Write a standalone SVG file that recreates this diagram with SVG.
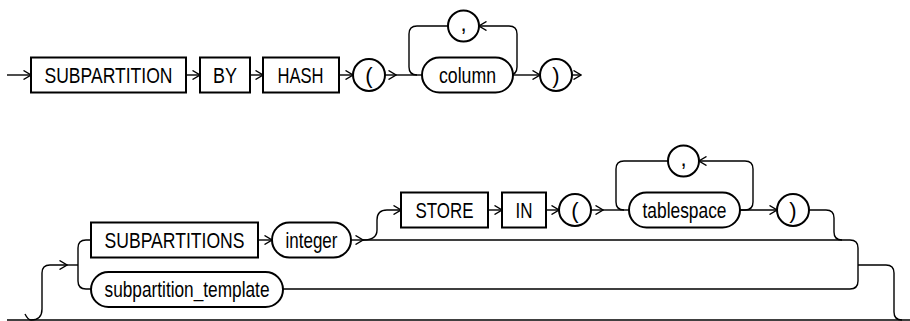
<svg xmlns="http://www.w3.org/2000/svg" width="910" height="321" viewBox="0 0 910 321">
<style>
  .box{fill:#fff;stroke:#000;stroke-width:2}
  .ln{fill:none;stroke:#000;stroke-width:1.4}
  .t{font-family:"Liberation Sans",Arial,Helvetica,sans-serif;font-size:22px;fill:#000;text-anchor:middle}
</style>
<defs>
  <marker id="arr" viewBox="0 0 9 10" refX="8" refY="5" markerWidth="9" markerHeight="10" markerUnits="userSpaceOnUse" orient="auto">
    <path d="M0.5 0.5 L8 5 L0.5 9.5" fill="none" stroke="#000" stroke-width="1.4"/>
  </marker>
</defs>

<g id="connectors" class="ln">
  <!-- row 1 -->
  <path d="M7 75 H31" marker-end="url(#arr)"/>
  <path d="M186 75 H200" marker-end="url(#arr)"/>
  <path d="M250 75 H263" marker-end="url(#arr)"/>
  <path d="M339 75 H353" marker-end="url(#arr)"/>
  <path d="M385 75 H396" marker-end="url(#arr)"/>
  <path d="M396 75 H422"/>
  <path d="M448 26 H417 Q409 26 409 34 V67 Q409 75 417 75"/>
  <path d="M509 75 Q517 75 517 67 V34 Q517 26 509 26 H479" marker-end="url(#arr)"/>
  <path d="M513 75 H540" marker-end="url(#arr)"/>
  <path d="M572 75 H581" marker-end="url(#arr)"/>
  <!-- row 2 -->
  <path d="M7 320 H910"/>
  <path d="M25 314 Q28 320 31 320 Q42 320 42 309 V273 Q42 265 50 265 H67" marker-end="url(#arr)"/>
  <path d="M67 265 H78"/>
  <path d="M91 240 H86 Q78 240 78 248 V281 Q78 289 86 289 H91"/>
  <path d="M258 240 H272" marker-end="url(#arr)"/>
  <path d="M351 240 H363" marker-end="url(#arr)"/>
  <path d="M363 240 H850 Q858 240 858 248 V281 Q858 289 850 289 H283"/>
  <path d="M363 240 Q377 240 377 230 V220 Q377 210 387 210 H401" marker-end="url(#arr)"/>
  <path d="M488 210 H502" marker-end="url(#arr)"/>
  <path d="M546 210 H559" marker-end="url(#arr)"/>
  <path d="M591 210 H603" marker-end="url(#arr)"/>
  <path d="M603 210 H629"/>
  <path d="M668 161 H624 Q616 161 616 169 V202 Q616 210 624 210"/>
  <path d="M740 210 H745 Q753 210 753 202 V169 Q753 161 745 161 H699" marker-end="url(#arr)"/>
  <path d="M740 210 H777" marker-end="url(#arr)"/>
  <path d="M809 210 H826 Q834 210 834 218 V232 Q834 240 842 240"/>
  <path d="M858 265 H886 Q894 265 894 273 V312 Q894 320 902 320"/>
</g>

<g id="n_subpartition"><rect class="box" x="31" y="57.5" width="155" height="35"/><text class="t" x="108.5" y="82.5" textLength="128" lengthAdjust="spacingAndGlyphs">SUBPARTITION</text></g>
<g id="n_by"><rect class="box" x="200" y="57.5" width="50" height="35"/><text class="t" x="225" y="82.5" textLength="24" lengthAdjust="spacingAndGlyphs">BY</text></g>
<g id="n_hash"><rect class="box" x="263" y="57.5" width="76" height="35"/><text class="t" x="300.5" y="82.5" textLength="46" lengthAdjust="spacingAndGlyphs">HASH</text></g>
<g id="n_lparen1"><circle class="box" cx="369" cy="75" r="16"/><text class="t" x="369" y="82.5">(</text></g>
<g id="n_comma1"><circle class="box" cx="463.5" cy="26" r="15.5"/><text class="t" x="463.5" y="31">,</text></g>
<g id="n_column"><rect class="box" x="422" y="57.5" width="91" height="35" rx="17.5"/><text class="t" x="467.5" y="82.5" textLength="57" lengthAdjust="spacingAndGlyphs">column</text></g>
<g id="n_rparen1"><circle class="box" cx="556" cy="75" r="16"/><text class="t" x="556" y="82.5">)</text></g>

<g id="n_subpartitions"><rect class="box" x="91" y="222.5" width="167" height="35"/><text class="t" x="174.5" y="247.5" textLength="140" lengthAdjust="spacingAndGlyphs">SUBPARTITIONS</text></g>
<g id="n_integer"><rect class="box" x="272" y="222.5" width="79" height="35" rx="17.5"/><text class="t" x="311.5" y="247.5" textLength="52" lengthAdjust="spacingAndGlyphs">integer</text></g>
<g id="n_store"><rect class="box" x="401" y="192.5" width="87" height="35"/><text class="t" x="444.5" y="217.5" textLength="58" lengthAdjust="spacingAndGlyphs">STORE</text></g>
<g id="n_in"><rect class="box" x="502" y="192.5" width="44" height="35"/><text class="t" x="524" y="217.5" textLength="17" lengthAdjust="spacingAndGlyphs">IN</text></g>
<g id="n_lparen2"><circle class="box" cx="575" cy="210" r="16"/><text class="t" x="575" y="217.5">(</text></g>
<g id="n_comma2"><circle class="box" cx="683.5" cy="161" r="15.5"/><text class="t" x="683.5" y="166">,</text></g>
<g id="n_tablespace"><rect class="box" x="629" y="192.5" width="111" height="35" rx="17.5"/><text class="t" x="684.5" y="217.5" textLength="84" lengthAdjust="spacingAndGlyphs">tablespace</text></g>
<g id="n_rparen2"><circle class="box" cx="793" cy="210" r="16"/><text class="t" x="793" y="217.5">)</text></g>
<g id="n_template"><rect class="box" x="91" y="272" width="192" height="35" rx="17.5"/><text class="t" x="187" y="297" textLength="165" lengthAdjust="spacingAndGlyphs">subpartition_template</text></g>
</svg>
